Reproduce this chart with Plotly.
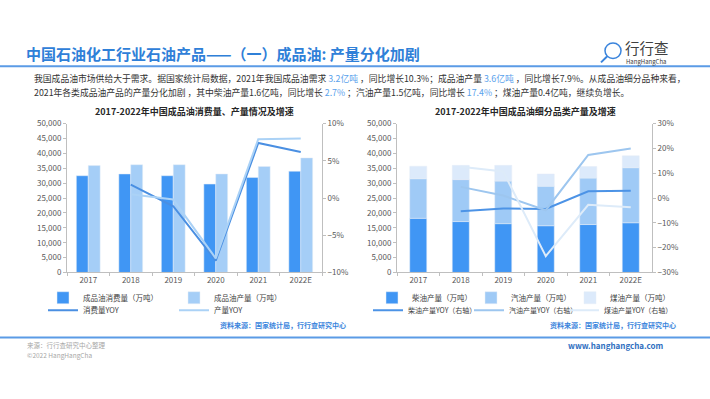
import plotly.graph_objects as go

# ---------------- data ----------------
years = ["2017", "2018", "2019", "2020", "2021", "2022E"]
consumption = [32500, 33100, 32500, 29700, 31900, 34000]      # 成品油消费量（万吨）
production = [35900, 36200, 36200, 33100, 35600, 38500]       # 成品油产量（万吨）
consumption_yoy = [None, 1.8, -1.1, -8.4, 7.4, 6.2]           # 消费量YOY (%)
production_yoy = [None, 0.5, -0.2, -8.1, 7.9, 8.0]            # 产量YOY (%)

diesel = [18200, 17100, 16400, 15700, 16100, 16700]           # 柴油产量（万吨）
gasoline = [13300, 14100, 14300, 13300, 15600, 18500]         # 汽油产量（万吨）
kerosene = [4200, 4800, 5300, 4100, 3900, 4000]               # 煤油产量（万吨）
diesel_yoy = [None, -5.3, -4.2, -4.4, 2.7, 2.9]
gasoline_yoy = [None, 4.5, 1.0, -4.9, 17.4, 20.0]
kerosene_yoy = [None, 12.6, 10.7, -23.4, -2.7, -3.7]

left_ticks = [0, 5000, 10000, 15000, 20000, 25000, 30000, 35000, 40000, 45000, 50000]

W, H = 710, 399
def X(px): return px / W
def Y(py): return 1 - py / H

FONT = "Noto Sans CJK SC"
DARK = "#4096F4"
LIGHT = "#A5CEF7"
PALE = "#DCEAFB"
TICK = dict(size=8, color="#595959", family=FONT)
AX = "#BFBFBF"

fig = go.Figure()

# ---- left chart ----
fig.add_trace(go.Bar(x=years, y=consumption, name="成品油消费量（万吨）", marker_color=DARK,
                     width=0.28, offset=-0.28, xaxis="x", yaxis="y", legend="legend"))
fig.add_trace(go.Bar(x=years, y=production, name="成品油产量（万吨）", marker_color=LIGHT,
                     width=0.28, offset=0.0, xaxis="x", yaxis="y", legend="legend"))
fig.add_trace(go.Scatter(x=years, y=consumption_yoy, name="消费量YOY", mode="lines",
                         line=dict(color="#4A8FE2", width=2), xaxis="x", yaxis="y2", legend="legend2"))
fig.add_trace(go.Scatter(x=years, y=production_yoy, name="产量YOY", mode="lines",
                         line=dict(color="#ABD2F6", width=2), xaxis="x", yaxis="y2", legend="legend2"))

# ---- right chart (stacked) ----
base_g = [d for d in diesel]
base_k = [d + g for d, g in zip(diesel, gasoline)]
fig.add_trace(go.Bar(x=years, y=diesel, name="柴油产量（万吨）", marker_color=DARK,
                     width=0.4, offset=-0.2, xaxis="x2", yaxis="y3", legend="legend3"))
fig.add_trace(go.Bar(x=years, y=gasoline, base=base_g, name="汽油产量（万吨）", marker_color="#9FCAF6",
                     width=0.4, offset=-0.2, xaxis="x2", yaxis="y3", legend="legend3"))
fig.add_trace(go.Bar(x=years, y=kerosene, base=base_k, name="煤油产量（万吨）", marker_color=PALE,
                     width=0.4, offset=-0.2, xaxis="x2", yaxis="y3", legend="legend3"))
fig.add_trace(go.Scatter(x=years, y=diesel_yoy, name="柴油产量YOY（右轴）", mode="lines",
                         line=dict(color="#4C93E6", width=2), xaxis="x2", yaxis="y4", legend="legend4"))
fig.add_trace(go.Scatter(x=years, y=gasoline_yoy, name="汽油产量YOY（右轴）", mode="lines",
                         line=dict(color="#9DC6EF", width=2), xaxis="x2", yaxis="y4", legend="legend5"))
fig.add_trace(go.Scatter(x=years, y=kerosene_yoy, name="煤油产量YOY（右轴）", mode="lines",
                         line=dict(color="#DDEBF9", width=2), xaxis="x2", yaxis="y4", legend="legend6"))

ydom = [Y(274), Y(121)]
xcommon = dict(type="category", showline=True, linecolor=AX, ticks="outside", tickson="boundaries",
               ticklen=3, tickcolor=AX, tickfont=TICK, showgrid=False, zeroline=False, fixedrange=True)
ycommon = dict(showline=True, linecolor=AX, ticks="outside", ticklen=3, tickcolor=AX,
               tickfont=TICK, showgrid=False, zeroline=False, fixedrange=True)

def leg(x, y, size=7.5, **kw):
    return dict(x=X(x), y=Y(y), orientation="h", font=dict(size=size, color="#404040", family=FONT),
                bgcolor="rgba(0,0,0,0)", xanchor="left", yanchor="middle",
                entrywidthmode="pixels", itemwidth=30, tracegroupgap=0, **kw)

fig.update_layout(
    width=W, height=H, margin=dict(l=0, r=0, t=0, b=0),
    paper_bgcolor="white", plot_bgcolor="white",
    barmode="overlay", showlegend=True,
    font=dict(family=FONT),
    xaxis=dict(domain=[X(67), X(322)], anchor="y", **xcommon),
    yaxis=dict(domain=ydom, anchor="x", range=[0, 50000], tickvals=left_ticks, tickformat=",", **ycommon),
    yaxis2=dict(overlaying="y", side="right", anchor="x", range=[-10, 10], dtick=5, ticksuffix="%", **ycommon),
    xaxis2=dict(domain=[X(397), X(652)], anchor="y3", **xcommon),
    yaxis3=dict(domain=ydom, anchor="x2", range=[0, 50000], tickvals=left_ticks, tickformat=",", **ycommon),
    yaxis4=dict(overlaying="y3", side="right", anchor="x2", range=[-30, 30], dtick=10, ticksuffix="%", **ycommon),
    legend=leg(43, 300, entrywidth=86),
    legend2=leg(43, 313, entrywidth=86),
    legend3=leg(372, 300, entrywidth=54),
    legend4=leg(368, 313, size=7),
    legend5=leg(469, 313, size=7),
    legend6=leg(564, 313, size=7),
)

# ---- decorations ----
BLUE = "#2F80D8"
P = dict(xref="paper", yref="paper", showarrow=False, yanchor="middle")
anns = []
anns.append(dict(x=X(24), y=Y(49), text="<b>中国石油化工行业石油产品——（一）成品油: 产量分化加剧</b>",
                 font=dict(size=15, color=BLUE, family=FONT), xanchor="left", **P))
hl = "<span style='color:#5AA2EC'>%s</span>"
line1 = ("我国成品油市场供给大于需求。据国家统计局数据，2021年我国成品油需求 " + hl % "3.2亿吨" +
         " ，同比增长10.3%；成品油产量 " + hl % "3.6亿吨" + " ，同比增长7.9%。从成品油细分品种来看，")
line2 = ("2021年各类成品油产品的产量分化加剧 ，其中柴油产量1.6亿吨，同比增长 " + hl % "2.7%" +
         " ；汽油产量1.5亿吨，同比增长 " + hl % "17.4%" + " ；煤油产量0.4亿吨，继续负增长。")
for t, py in [(line1, 75), (line2, 89)]:
    anns.append(dict(x=X(32), y=Y(py), text=t, font=dict(size=8.8, color="#333333", family=FONT),
                     xanchor="left", **P))
anns.append(dict(x=X(194), y=Y(108), text="<b>2017-2022年中国成品油消费量、产量情况及增速</b>",
                 font=dict(size=9, color="#262626", family=FONT), xanchor="center", **P))
anns.append(dict(x=X(525), y=Y(108), text="<b>2017-2022年中国成品油细分品类产量及增速</b>",
                 font=dict(size=9, color="#262626", family=FONT), xanchor="center", **P))
for px in [348, 678]:
    anns.append(dict(x=X(px), y=Y(328), text="<b>资料来源：国家统计局，行行查研究中心</b>",
                     font=dict(size=7, color="#3A84DC", family=FONT), xanchor="right", **P))
anns.append(dict(x=X(25), y=Y(349), text="来源：行行查研究中心整理", font=dict(size=6.5, color="#A6A6A6", family=FONT),
                 xanchor="left", **P))
anns.append(dict(x=X(25), y=Y(359), text="©2022 HangHangCha", font=dict(size=6.5, color="#A6A6A6", family=FONT),
                 xanchor="left", **P))
anns.append(dict(x=X(666), y=Y(349), text="<b>www.hanghangcha.com</b>", font=dict(size=8, color="#2F6FBF", family=FONT),
                 xanchor="right", **P))
# logo text
anns.append(dict(x=X(623), y=Y(43), text="行行查", font=dict(size=14.5, color="#404040", family=FONT),
                 xanchor="left", **P))
anns.append(dict(x=X(624), y=Y(57), text="HangHangCha", font=dict(size=6, color="#404040", family=FONT),
                 xanchor="left", **P))
fig.update_layout(annotations=anns)

shapes = [
    dict(type="line", xref="paper", yref="paper", x0=0, x1=1, y0=Y(62), y1=Y(62),
         line=dict(color="#5B9BE6", width=2)),
    dict(type="line", xref="paper", yref="paper", x0=0, x1=1, y0=Y(341), y1=Y(341),
         line=dict(color="#5B9BE6", width=2)),
    dict(type="circle", xref="paper", yref="paper", x0=X(605), x1=X(621), y0=Y(54), y1=Y(38),
         line=dict(color="#3A84DC", width=1.5)),
    dict(type="line", xref="paper", yref="paper", x0=X(607), x1=X(601), y0=Y(52), y1=Y(58),
         line=dict(color="#3A84DC", width=2)),
]
fig.update_layout(shapes=shapes)

fig.write_html("out.html", config={"displayModeBar": False},
               post_script="document.body.style.margin='0';document.body.style.overflow='hidden';")
